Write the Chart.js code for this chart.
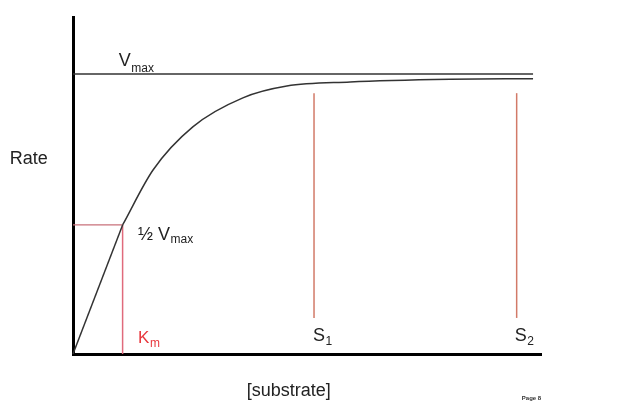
<!DOCTYPE html>
<html>
<head>
<meta charset="utf-8">
<script src="https://cdn.jsdelivr.net/npm/chart.js@4"></script>
<style>
html,body{margin:0;padding:0;background:#fff;}
#wrap{width:624px;height:416px;}
</style>
</head>
<body>
<div id="wrap"><canvas id="c" width="624" height="416"></canvas></div>
<script>
// ---- data (arbitrary units: substrate 0..100, rate 0..100) ----
// straight initial part (origin to the half-Vmax point)
const lineX = [0, 10.6];
const lineY = [0, 38.3];
// saturating curve from the half-Vmax point onwards
const curveX = [10.6, 17.1, 25.6, 36.3, 45.7, 59.2, 80.6, 98.3];
const curveY = [38.3, 54.6, 67.4, 76.0, 79.5, 80.7, 81.5, 81.7];
const vmax = 83.1;
const vmaxEndX = 98.3;
const km = 10.6;
const halfVmax = 38.3;
const s1 = 51.5;
const s2 = 94.8;
const sLineBottom = 10.7;
const sLineTop = 77.4;

// text labels: main text, subscript, anchor x / y (data units of the text baseline)
const labelTexts = ['V', '\u00BD V', 'K', 'S', 'S', 'Rate', '[substrate]'];
const labelSubs = ['max', 'max', 'm', '1', '2', '', ''];
const labelX = [9.8, 13.9, 13.9, 51.3, 94.4, -13.5, 37.1];
const labelY = [85.5, 33.8, 3.35, 3.9, 3.9, 56.4, -12.5];

const pts = (xs, ys) => xs.map((x, i) => ({x, y: ys[i]}));

const labelPlugin = {
  id: 'labels',
  afterDatasetsDraw(chart) {
    const ctx = chart.ctx;
    const xs = chart.scales.x, ys = chart.scales.y;
    const colors = ['#222', '#222', '#e8393f', '#222', '#222', '#222', '#222'];
    const drops = [6, 3, 4, 4, 4, 0, 0];
    const mainSize = [18, 18, 17, 18, 18, 18, 18];
    ctx.save();
    ctx.textBaseline = 'alphabetic';
    ctx.textAlign = 'left';
    labelTexts.forEach((t, i) => {
      const px = xs.getPixelForValue(labelX[i]);
      const py = ys.getPixelForValue(labelY[i]);
      ctx.fillStyle = colors[i];
      ctx.font = mainSize[i] + 'px "Liberation Sans", Arial, sans-serif';
      ctx.fillText(t, px, py);
      const w = ctx.measureText(t).width;
      if (labelSubs[i]) {
        ctx.font = '12px "Liberation Sans", Arial, sans-serif';
        ctx.fillText(labelSubs[i], px + w + 0.5, py + drops[i]);
      }
    });
    // page footer
    ctx.fillStyle = '#333';
    ctx.font = 'bold 6px "Liberation Sans", Arial, sans-serif';
    ctx.fillText('Page 8', xs.getPixelForValue(95.9), ys.getPixelForValue(-13.6));
    ctx.restore();
  }
};

const lineDs = (data, color, width) => ({
  data, borderColor: color, borderWidth: width, pointRadius: 0, fill: false, tension: 0, clip: false
});

new Chart(document.getElementById('c'), {
  type: 'scatter',
  data: {
    datasets: [
      lineDs([{x: 0, y: vmax}, {x: vmaxEndX, y: vmax}], '#333', 1.5),
      lineDs(pts(lineX, lineY), '#333', 1.5),
      Object.assign(lineDs(pts(curveX, curveY), '#333', 1.5), {cubicInterpolationMode: 'monotone'}),
      lineDs([{x: km, y: 0}, {x: km, y: halfVmax}], '#e06a7c', 1.5),
      lineDs([{x: 0, y: halfVmax}, {x: km, y: halfVmax}], '#c8707a', 1.2),
      lineDs([{x: s1, y: sLineBottom}, {x: s1, y: sLineTop}], '#d27a68', 1.5),
      lineDs([{x: s2, y: sLineBottom}, {x: s2, y: sLineTop}], '#d27a68', 1.5)
    ].map(d => Object.assign(d, {showLine: true}))
  },
  options: {
    responsive: false,
    animation: false,
    events: [],
    layout: {padding: {left: 73, top: 17, right: 83, bottom: 62}},
    plugins: {legend: {display: false}, tooltip: {enabled: false}},
    scales: {
      x: {type: 'linear', min: 0, max: 100,
          ticks: {display: false}, grid: {display: false, drawTicks: false},
          border: {display: true, color: '#000', width: 3}},
      y: {type: 'linear', min: 0, max: 100,
          ticks: {display: false}, grid: {display: false, drawTicks: false},
          border: {display: true, color: '#000', width: 3}}
    }
  },
  plugins: [labelPlugin]
});
</script>
</body>
</html>
